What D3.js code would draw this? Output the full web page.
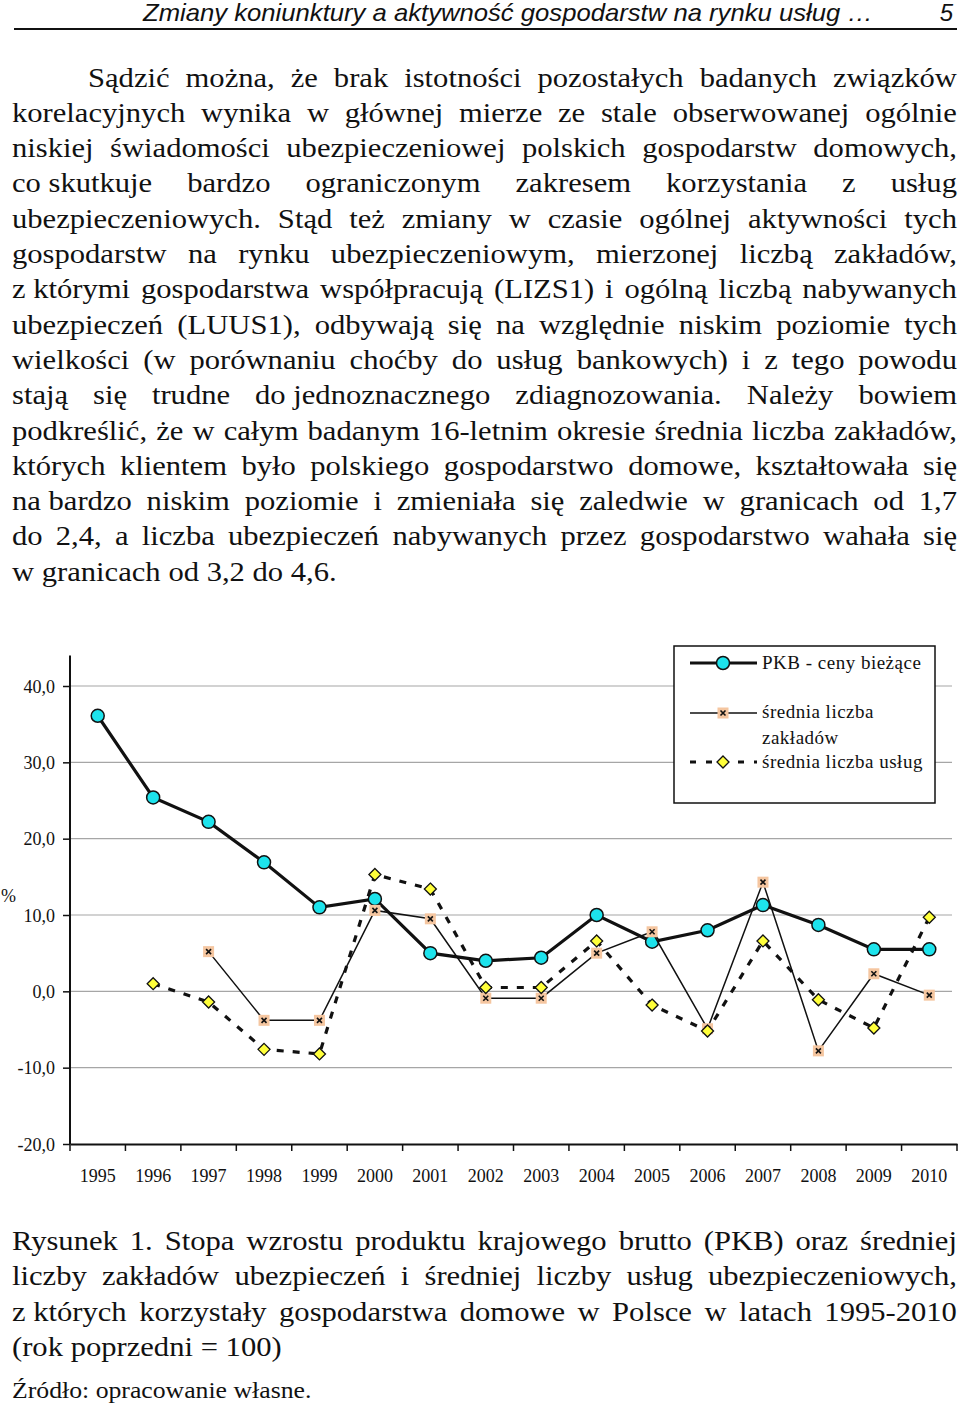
<!DOCTYPE html>
<html><head><meta charset="utf-8">
<script src="https://cdn.jsdelivr.net/npm/d3@7"></script>
<style>
html,body{margin:0;padding:0;background:#fff;}
svg{display:block;}
</style></head>
<body>
<script>
const NB = "\u00A0";
const years = ["1995","1996","1997","1998","1999","2000","2001","2002","2003","2004","2005","2006","2007","2008","2009","2010"];
const pkb = [36.1, 25.4, 22.2, 16.9, 11.0, 12.1, 5.0, 4.0, 4.4, 10.0, 6.5, 8.0, 11.3, 8.7, 5.5, 5.5];
const zaklady = [null, null, 5.2, -3.8, -3.8, 10.6, 9.5, -0.9, -0.9, 5.0, 7.8, -4.9, 14.3, -7.8, 2.3, -0.5];
const uslugi = [null, 1.0, -1.4, -7.6, -8.2, 15.3, 13.4, 0.5, 0.5, 6.6, -1.8, -5.2, 6.6, -1.1, -4.8, 9.7];
const yTicks = [-20, -10, 0, 10, 20, 30, 40];
const yAxisTop = 44;
const seriesNames = ["PKB - ceny bieżące", ["średnia liczba", "zakładów"], "średnia liczba usług"];

const headerText = "Zmiany koniunktury a aktywność gospodarstw na rynku usług …";
const pageNo = "5";
const bodyLines = [
  "Sądzić można, że brak istotności pozostałych badanych związków",
  "korelacyjnych wynika w głównej mierze ze stale obserwowanej ogólnie",
  "niskiej świadomości ubezpieczeniowej polskich gospodarstw domowych,",
  "co"+NB+"skutkuje bardzo ograniczonym zakresem korzystania z usług",
  "ubezpieczeniowych. Stąd też zmiany w czasie ogólnej aktywności tych",
  "gospodarstw na rynku ubezpieczeniowym, mierzonej liczbą zakładów,",
  "z"+NB+"którymi gospodarstwa współpracują (LIZS1) i ogólną liczbą nabywanych",
  "ubezpieczeń (LUUS1), odbywają się na względnie niskim poziomie tych",
  "wielkości (w porównaniu choćby do usług bankowych) i z tego powodu",
  "stają się trudne do"+NB+"jednoznacznego zdiagnozowania. Należy bowiem",
  "podkreślić, że w całym badanym 16-letnim okresie średnia liczba zakładów,",
  "których klientem było polskiego gospodarstwo domowe, kształtowała się",
  "na"+NB+"bardzo niskim poziomie i zmieniała się zaledwie w granicach od 1,7",
  "do 2,4, a liczba ubezpieczeń nabywanych przez gospodarstwo wahała się",
  "w granicach od 3,2 do 4,6."
];
const captionLines = [
  "Rysunek 1. Stopa wzrostu produktu krajowego brutto (PKB) oraz średniej",
  "liczby zakładów ubezpieczeń i średniej liczby usług ubezpieczeniowych,",
  "z"+NB+"których korzystały gospodarstwa domowe w Polsce w latach 1995-2010",
  "(rok poprzedni = 100)"
];
const sourceText = "Źródło: opracowanie własne.";

const W = 960, H = 1408;
const svg = d3.select("body").append("svg").attr("width", W).attr("height", H);
const serif = "'Liberation Serif','Times New Roman',serif";

// header
svg.append("text").attr("x", 143).attr("y", 21)
  .attr("font-family", "'Liberation Sans',Arial,sans-serif").attr("font-style", "italic")
  .attr("font-size", 24).attr("textLength", 730).attr("lengthAdjust", "spacingAndGlyphs")
  .attr("fill", "#111").text(headerText);
svg.append("text").attr("x", 953).attr("y", 21).attr("text-anchor", "end")
  .attr("font-family", "'Liberation Sans',Arial,sans-serif").attr("font-style", "italic")
  .attr("font-size", 24).attr("fill", "#111").text(pageNo);
svg.append("line").attr("x1", 14).attr("x2", 957).attr("y1", 29).attr("y2", 29)
  .attr("stroke", "#111").attr("stroke-width", 2);

function justifyLine(str, x0, x1, y, size, sx, justify) {
  const words = str.split(" ");
  const g = svg.append("g").attr("font-family", serif).attr("font-size", size).attr("fill", "#111");
  const nodes = words.map(w => g.append("text").text(w));
  const widths = nodes.map(n => n.node().getComputedTextLength() * sx);
  const total = d3.sum(widths);
  let gap;
  if (justify && words.length > 1) gap = (x1 - x0 - total) / (words.length - 1);
  else gap = size * 0.25 * sx;
  let x = x0;
  nodes.forEach((n, i) => { n.attr("transform", `translate(${x},${y}) scale(${sx},1)`); x += widths[i] + gap; });
}

const bodySize = 26.5, lh = 35.3, SX = 1.155;
bodyLines.forEach((l, i) => {
  const x0 = i === 0 ? 88 : 12;
  justifyLine(l, x0, 957, 86.5 + i * lh, bodySize, SX, i < bodyLines.length - 1);
});
captionLines.forEach((l, i) => {
  justifyLine(l, 12, 957, 1250 + i * lh, bodySize, SX, i < captionLines.length - 1);
});
justifyLine(sourceText, 12, 957, 1398, 23.5, 1.095, false);

// chart
const x = d3.scaleBand().domain(years).range([70, 957]);
const y = d3.scaleLinear().domain([-20, 40]).range([1144, 686]);
const cx = d => x(d) + x.bandwidth() / 2;

// gridlines
svg.append("g").selectAll("line").data(yTicks.filter(t => t !== -20)).join("line")
  .attr("x1", 70).attr("x2", 952).attr("y1", d => y(d)).attr("y2", d => y(d))
  .attr("stroke", "#a6a6a6").attr("stroke-width", 1.2);

// y axis
const yAxis = d3.axisLeft(y).tickValues(yTicks).tickSize(7)
  .tickFormat(d => d3.format(".1f")(d).replace(".", ",").replace("−", "-"));
const gy = svg.append("g").attr("transform", "translate(70,0)").call(yAxis);
gy.select(".domain").remove();
gy.selectAll(".tick line").attr("stroke", "#111").attr("stroke-width", 1.5);
gy.selectAll(".tick text").attr("font-family", serif).attr("font-size", 18).attr("fill", "#111")
  .attr("x", -15).attr("dy", "0.35em");
svg.append("line").attr("x1", 70).attr("x2", 70).attr("y1", y(yAxisTop)).attr("y2", y(-20))
  .attr("stroke", "#111").attr("stroke-width", 2);

// x axis
const xAxis = d3.axisBottom(x).tickSize(0);
const gx = svg.append("g").attr("transform", `translate(0,${y(-20)})`).call(xAxis);
gx.select(".domain").attr("stroke", "#111").attr("stroke-width", 2);
gx.selectAll(".tick text").attr("font-family", serif).attr("font-size", 18).attr("fill", "#111")
  .attr("y", 32).attr("dy", "0.35em");
const bounds = years.map(d => x(d)).concat([x(years[years.length - 1]) + x.bandwidth()]);
svg.append("g").selectAll("line").data(bounds).join("line")
  .attr("x1", d => d).attr("x2", d => d).attr("y1", y(-20)).attr("y2", y(-20) + 7)
  .attr("stroke", "#111").attr("stroke-width", 1.5);

svg.append("text").attr("x", 1).attr("y", 902).attr("font-family", serif)
  .attr("font-size", 18).attr("fill", "#111").text("%");

function pts(arr) { return years.map((yr, i) => ({yr, v: arr[i]})).filter(p => p.v !== null); }
const line = d3.line().x(p => cx(p.yr)).y(p => y(p.v));

const C_CYAN = "#1de3ec", C_PEACH = "#f5c6a0", C_YEL = "#ffff3a";

function drawCircle(g, px, py) {
  g.append("circle").attr("cx", px).attr("cy", py).attr("r", 6.5)
    .attr("fill", C_CYAN).attr("stroke", "#111").attr("stroke-width", 1.5);
}
function drawSquare(g, px, py) {
  g.append("rect").attr("x", px - 5.5).attr("y", py - 5.5).attr("width", 11).attr("height", 11)
    .attr("fill", C_PEACH);
  g.append("path").attr("d", `M${px-2.5},${py-2.5}L${px+2.5},${py+2.5}M${px+2.5},${py-2.5}L${px-2.5},${py+2.5}`)
    .attr("stroke", "#111").attr("stroke-width", 1.6);
}
function drawDiamond(g, px, py) {
  g.append("path").attr("d", `M${px},${py-6}L${px+6},${py}L${px},${py+6}L${px-6},${py}Z`)
    .attr("fill", C_YEL).attr("stroke", "#111").attr("stroke-width", 1.3);
}

// series 1: PKB
const s1 = svg.append("g");
s1.append("path").attr("d", line(pts(pkb))).attr("fill", "none").attr("stroke", "#111").attr("stroke-width", 3.2);
pts(pkb).forEach(p => drawCircle(s1, cx(p.yr), y(p.v)));
// series 2: zakłady
const s2 = svg.append("g");
s2.append("path").attr("d", line(pts(zaklady))).attr("fill", "none").attr("stroke", "#111").attr("stroke-width", 1.5);
pts(zaklady).forEach(p => drawSquare(s2, cx(p.yr), y(p.v)));
// series 3: usługi
const s3 = svg.append("g");
s3.append("path").attr("d", line(pts(uslugi))).attr("fill", "none").attr("stroke", "#111")
  .attr("stroke-width", 3.2).attr("stroke-dasharray", "7,9");
pts(uslugi).forEach(p => drawDiamond(s3, cx(p.yr), y(p.v)));

// legend
const lg = svg.append("g");
lg.append("rect").attr("x", 674).attr("y", 646).attr("width", 261).attr("height", 157)
  .attr("fill", "#fff").attr("stroke", "#111").attr("stroke-width", 1.5);
const lx0 = 690, lx1 = 757, lmx = 723;
lg.append("line").attr("x1", lx0).attr("x2", lx1).attr("y1", 663).attr("y2", 663).attr("stroke", "#111").attr("stroke-width", 3);
drawCircle(lg, lmx, 663);
lg.append("line").attr("x1", lx0).attr("x2", lx1).attr("y1", 713).attr("y2", 713).attr("stroke", "#111").attr("stroke-width", 1.5);
drawSquare(lg, lmx, 713);
lg.append("line").attr("x1", lx0).attr("x2", lx1).attr("y1", 762).attr("y2", 762).attr("stroke", "#111").attr("stroke-width", 3.2).attr("stroke-dasharray", "6,10");
drawDiamond(lg, lmx, 762);
const lt = lg.append("g").attr("font-family", serif).attr("font-size", 19).attr("letter-spacing", 0.5).attr("fill", "#111");
lt.append("text").attr("x", 762).attr("y", 669).text(seriesNames[0]);
lt.append("text").attr("x", 762).attr("y", 718).text(seriesNames[1][0]);
lt.append("text").attr("x", 762).attr("y", 744).text(seriesNames[1][1]);
lt.append("text").attr("x", 762).attr("y", 768).text(seriesNames[2]);
</script>
</body></html>
